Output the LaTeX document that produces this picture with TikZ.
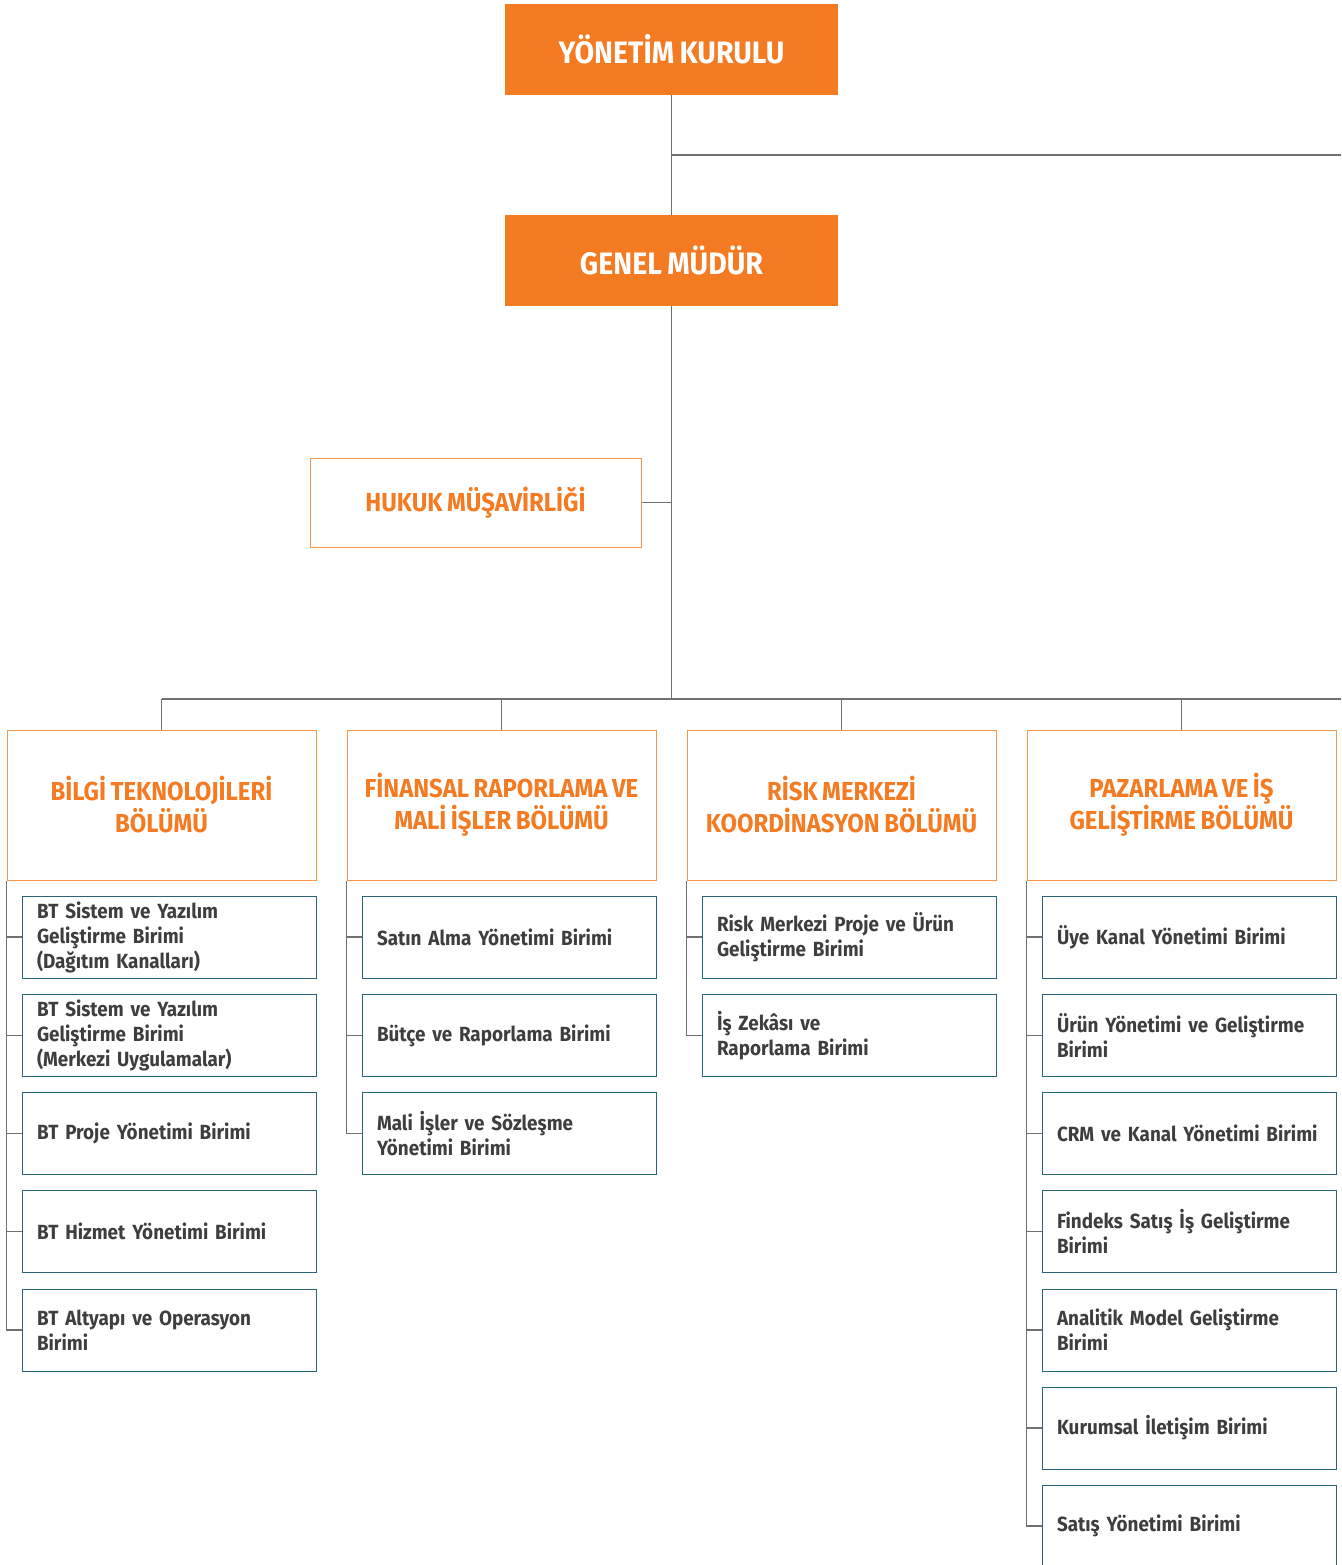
\documentclass[tikz,border=0pt]{standalone}
\usepackage{fontspec}
\setmainfont{Fira Sans}[FakeStretch=0.92, WordSpace=0.8]
\definecolor{orfill}{HTML}{F47B22}
\definecolor{ortext}{HTML}{F47B22}
\definecolor{orline}{HTML}{F7964A}
\definecolor{unitline}{HTML}{2A6577}
\definecolor{unittext}{HTML}{3E3E40}
\definecolor{conn}{HTML}{707070}
\tikzset{
  topbox/.style={rectangle, fill=orfill, draw=none, minimum width=333pt, minimum height=91pt, inner sep=0pt,
    text=white, font=\bfseries\fontsize{31}{34}\selectfont},
  hukbox/.style={rectangle, draw=orline, line width=1pt, fill=white, minimum width=331pt, minimum height=89pt, inner sep=0pt,
    text=ortext, font=\bfseries\fontsize{26}{30}\selectfont},
  deptbox/.style={rectangle, draw=orline, line width=1pt, fill=white, minimum width=309pt, minimum height=150pt, inner sep=0pt,
    text=ortext, align=center, font=\bfseries\fontsize{26}{32}\selectfont},
  unitbox/.style={rectangle, draw=unitline, line width=1pt, fill=white, minimum width=294pt, minimum height=82pt,
    inner xsep=15pt, inner ysep=0pt, text width=264pt, align=left,
    text=unittext, font=\bfseries\fontsize{20.5}{25}\selectfont},
  connline/.style={draw=conn, line width=1.3pt}
}
\begin{document}
\begin{tikzpicture}[x=1pt,y=-1pt]
\useasboundingbox (0,0) rectangle (1341,1565);
% top
\node[topbox] (yk) at (671.5,49.5) {YÖNETİM KURULU};
\node[topbox] (gm) at (671.5,260.5) {GENEL MÜDÜR};
\node[hukbox] (huk) at (475.5,502.5) {HUKUK MÜŞAVİRLİĞİ};
\coordinate (j1) at (671.5,155);
\coordinate (rend) at (1341,155);
\coordinate (jh) at (671.5,502.5);
\coordinate (busC) at (671.5,699);
\coordinate (busR) at (1341,699);
% departments
\node[deptbox] (d1) at (161.5,805) {BİLGİ TEKNOLOJİLERİ\\BÖLÜMÜ};
\node[deptbox] (d2) at (501.5,805) {FİNANSAL RAPORLAMA VE\\MALİ İŞLER BÖLÜMÜ};
\node[deptbox] (d3) at (841.5,805) {RİSK MERKEZİ\\KOORDİNASYON BÖLÜMÜ};
\node[deptbox] (d4) at (1181.5,805) {PAZARLAMA VE İŞ\\GELİŞTİRME BÖLÜMÜ};
% units col 1
\node[unitbox] (a1) at (169,937) {BT Sistem ve Yazılım\\Geliştirme Birimi\\(Dağıtım Kanalları)};
\node[unitbox] (a2) at (169,1035.5) {BT Sistem ve Yazılım\\Geliştirme Birimi\\(Merkezi Uygulamalar)};
\node[unitbox] (a3) at (169,1133.5) {BT Proje Yönetimi Birimi};
\node[unitbox] (a4) at (169,1231.5) {BT Hizmet Yönetimi Birimi};
\node[unitbox] (a5) at (169,1330) {BT Altyapı ve Operasyon\\Birimi};
% col 2
\node[unitbox] (b1) at (509,937) {Satın Alma Yönetimi Birimi};
\node[unitbox] (b2) at (509,1035.5) {Bütçe ve Raporlama Birimi};
\node[unitbox] (b3) at (509,1133.5) {Mali İşler ve Sözleşme\\Yönetimi Birimi};
% col 3
\node[unitbox] (c1) at (849,937) {Risk Merkezi Proje ve Ürün\\Geliştirme Birimi};
\node[unitbox] (c2) at (849,1035.5) {İş Zekâsı ve\\Raporlama Birimi};
% col 4
\node[unitbox] (e1) at (1189,937) {Üye Kanal Yönetimi Birimi};
\node[unitbox] (e2) at (1189,1035.5) {Ürün Yönetimi ve Geliştirme\\Birimi};
\node[unitbox] (e3) at (1189,1133.5) {CRM ve Kanal Yönetimi Birimi};
\node[unitbox] (e4) at (1189,1231.5) {Findeks Satış İş Geliştirme\\Birimi};
\node[unitbox] (e5) at (1189,1330) {Analitik Model Geliştirme\\Birimi};
\node[unitbox] (e6) at (1189,1428) {Kurumsal İletişim Birimi};
\node[unitbox] (e7) at (1189,1526) {Satış Yönetimi Birimi};
% connectors
\draw[connline] (yk.south) -- (gm.north);
\draw[connline] (j1) -- (rend);
\draw[connline] (gm.south) -- (busC);
\draw[connline] (huk.east) -- (jh);
\draw[connline] (d1.north |- busC) -- (busR);
\foreach \d in {d1,d2,d3,d4} \draw[connline] (\d.north) -- (\d.north |- busC);
% spines
\draw[connline] (d1.south west) |- (a5.west);
\foreach \u in {a1,a2,a3,a4} \draw[connline] (\u.west) -- (\u.west -| d1.south west);
\draw[connline] (d2.south west) |- (b3.west);
\foreach \u in {b1,b2} \draw[connline] (\u.west) -- (\u.west -| d2.south west);
\draw[connline] (d3.south west) |- (c2.west);
\draw[connline] (c1.west) -- (c1.west -| d3.south west);
\draw[connline] (d4.south west) |- (e7.west);
\foreach \u in {e1,e2,e3,e4,e5,e6} \draw[connline] (\u.west) -- (\u.west -| d4.south west);
\end{tikzpicture}
\end{document}
